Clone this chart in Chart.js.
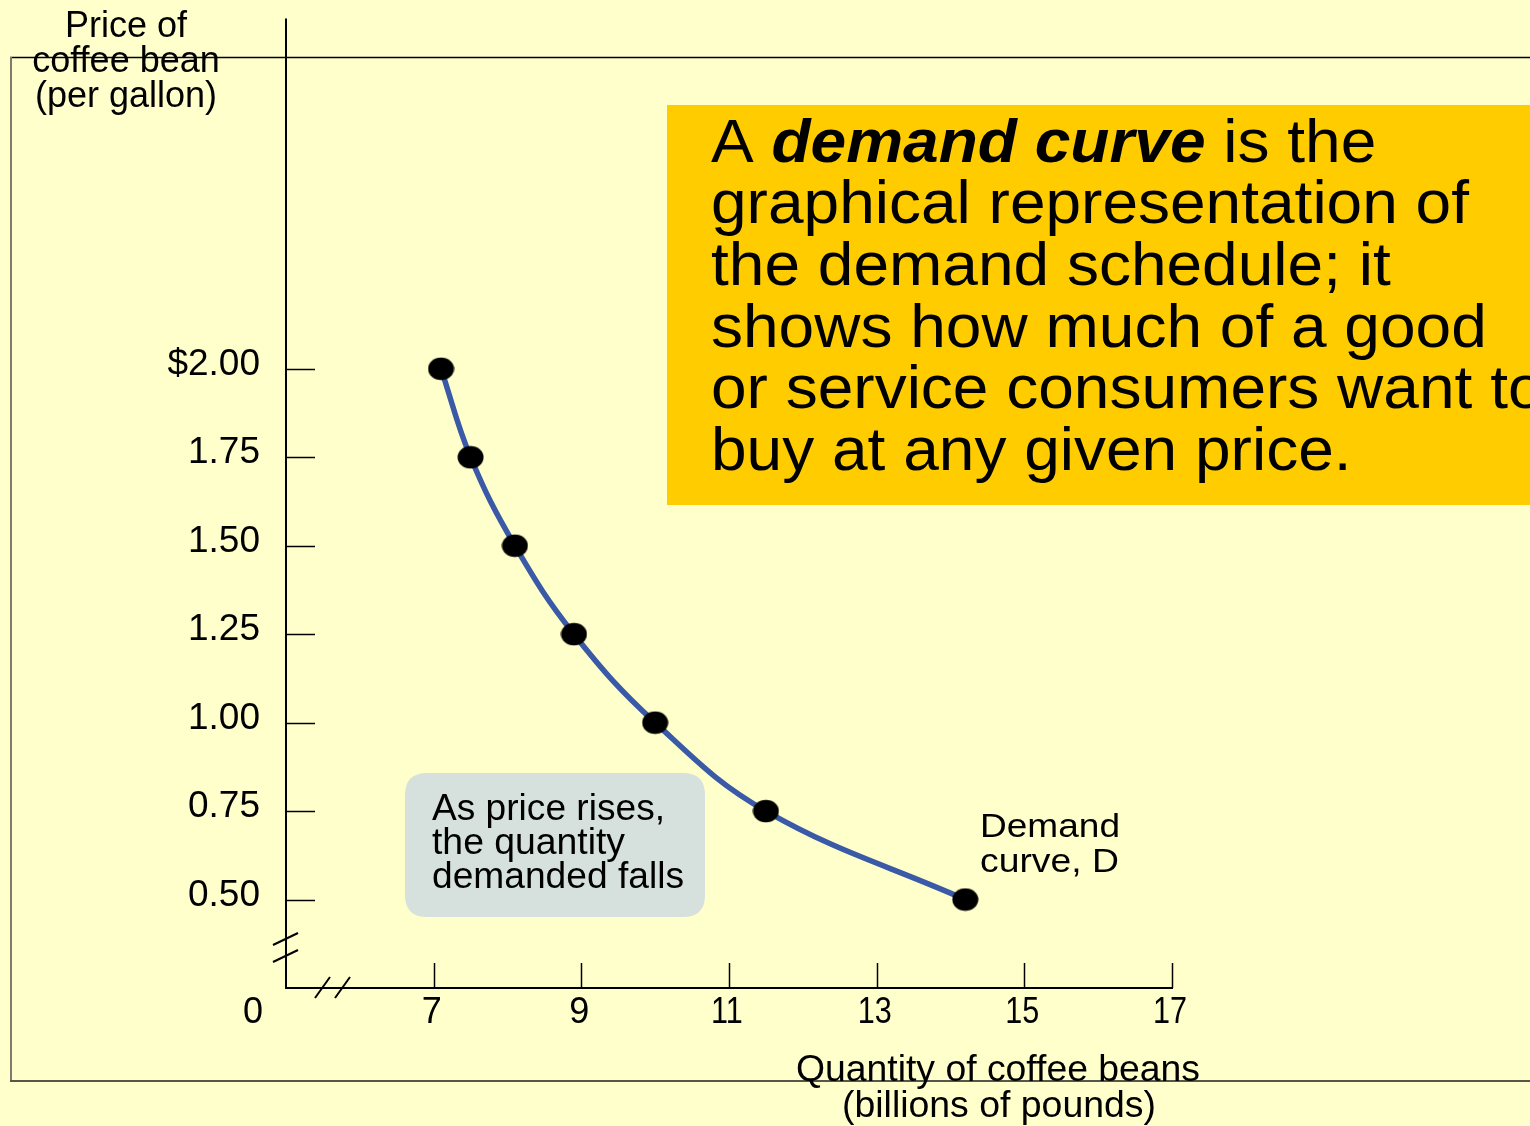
<!DOCTYPE html>
<html>
<head>
<meta charset="utf-8">
<style>
  html, body { margin: 0; padding: 0; background: #FFFFCC; }
  #wrap { width: 1530px; height: 1126px; position: relative; }
  canvas { display: block; }
</style>
<script src="https://cdn.jsdelivr.net/npm/chart.js@4.4.1/dist/chart.umd.min.js"></script>
</head>
<body>
<div id="wrap"><canvas id="c" width="1530" height="1126"></canvas></div>
<script>
// ---------------- DATA ----------------
const quantities = [7.1, 7.5, 8.1, 8.9, 10.0, 11.5, 14.2];          // billions of pounds
const prices = [2.00, 1.75, 1.50, 1.25, 1.00, 0.75, 0.50];           // $ per gallon
const xTickValues = [7, 9, 11, 13, 15, 17];
const xTickLabels = ['7', '9', '11', '13', '15', '17'];
const yTickValues = [2.00, 1.75, 1.50, 1.25, 1.00, 0.75, 0.50];
const yTickLabels = ['$2.00', '1.75', '1.50', '1.25', '1.00', '0.75', '0.50'];
const originLabel = '0';
const yTitleLines = ['Price of', 'coffee bean', '(per gallon)'];
const xTitleLines = ['Quantity of coffee beans', '(billions of pounds)'];
const curveLabelLines = ['Demand', 'curve, D'];
const calloutLines = ['As price rises,', 'the quantity', 'demanded falls'];
const definitionFirstLine = [
  { text: 'A ', style: 'normal' },
  { text: 'demand curve', style: 'bolditalic' },
  { text: ' is the', style: 'normal' }
];
const definitionLines = [
  'graphical representation of',
  'the demand schedule; it',
  'shows how much of a good',
  'or service consumers want to',
  'buy at any given price.'
];

// ---------------- STYLE ----------------
const BG = '#FFFFCC';
const FONT = '"Liberation Sans", Arial, sans-serif';
const CURVE_COLOR = '#3A5AA8';
const BOX_COLOR = '#FFCC00';
const CALLOUT_COLOR = '#D6E1DE';

function dotImage() {
  const c = document.createElement('canvas');
  c.width = 27; c.height = 24;
  const g = c.getContext('2d');
  g.fillStyle = '#000';
  g.beginPath();
  g.ellipse(13.5, 12, 13, 11.3, 0, 0, Math.PI * 2);
  g.fill();
  return c;
}

function txt(ctx, s, x, y, font, width, align) {
  ctx.save();
  ctx.font = font;
  const w = ctx.measureText(s).width;
  const sx = width ? width / w : 1;
  ctx.translate(x, y);
  ctx.scale(sx, 1);
  ctx.textAlign = align || 'left';
  ctx.textBaseline = 'alphabetic';
  ctx.fillStyle = '#000';
  ctx.fillText(s, 0, 0);
  ctx.restore();
}

function line(ctx, x1, y1, x2, y2, w, color) {
  ctx.save();
  ctx.strokeStyle = color || '#000';
  ctx.lineWidth = w;
  ctx.beginPath();
  ctx.moveTo(x1, y1);
  ctx.lineTo(x2, y2);
  ctx.stroke();
  ctx.restore();
}

function roundRect(ctx, x, y, w, h, r, color) {
  ctx.save();
  ctx.fillStyle = color;
  ctx.beginPath();
  ctx.moveTo(x + r, y);
  ctx.lineTo(x + w - r, y);
  ctx.quadraticCurveTo(x + w, y, x + w, y + r);
  ctx.lineTo(x + w, y + h - r);
  ctx.quadraticCurveTo(x + w, y + h, x + w - r, y + h);
  ctx.lineTo(x + r, y + h);
  ctx.quadraticCurveTo(x, y + h, x, y + h - r);
  ctx.lineTo(x, y + r);
  ctx.quadraticCurveTo(x, y, x + r, y);
  ctx.closePath();
  ctx.fill();
  ctx.restore();
}

const decorPlugin = {
  id: 'decor',
  beforeDraw(chart) {
    const ctx = chart.ctx;
    const xs = chart.scales.x, ys = chart.scales.y;
    ctx.save();
    ctx.fillStyle = BG;
    ctx.fillRect(0, 0, chart.width, chart.height);

    // frame lines
    line(ctx, 10, 57.5, 1530, 57.5, 1.5, '#000');
    line(ctx, 11, 57, 11, 1081, 2, '#7c7c6c');
    line(ctx, 10, 1081, 1530, 1081, 2, '#56564a');

    // definition box
    ctx.fillStyle = BOX_COLOR;
    ctx.fillRect(667, 105, 870, 400);

    // callout box
    roundRect(ctx, 405, 773, 300, 144, 22, CALLOUT_COLOR);

    // axes
    const x0 = xs.getPixelForValue(xs.min);
    const x1 = xs.getPixelForValue(xs.max);
    const y0 = ys.getPixelForValue(ys.min);
    const y1 = ys.getPixelForValue(ys.max);
    line(ctx, x0, y1, x0, y0 + 1, 2, '#000');
    line(ctx, x0 - 1, y0, x1 + 1, y0, 2, '#000');

    // y ticks
    yTickValues.forEach(v => {
      const py = Math.round(ys.getPixelForValue(v)) + 0.5;
      line(ctx, x0, py, x0 + 29, py, 1.5, '#000');
    });
    // x ticks
    xTickValues.forEach(v => {
      const px = Math.round(xs.getPixelForValue(v)) + 0.5;
      line(ctx, px, y0, px, y0 - 25, 1.5, '#000');
    });

    // axis break marks
    line(ctx, x0 - 13, y0 - 43, x0 + 12, y0 - 55, 2, '#000');
    line(ctx, x0 - 13, y0 - 26, x0 + 12, y0 - 38, 2, '#000');
    line(ctx, x0 + 29, y0 + 10, x0 + 44, y0 - 11, 2, '#000');
    line(ctx, x0 + 49, y0 + 10, x0 + 64, y0 - 11, 2, '#000');
    ctx.restore();
  },
  afterDraw(chart) {
    const ctx = chart.ctx;
    const xs = chart.scales.x, ys = chart.scales.y;
    const y0 = ys.getPixelForValue(ys.min);

    // y tick labels
    yTickValues.forEach((v, i) => {
      const py = ys.getPixelForValue(v);
      txt(ctx, yTickLabels[i], 260, py + 6, '37px ' + FONT, null, 'right');
    });
    // x tick labels
    xTickValues.forEach((v, i) => {
      const px = xs.getPixelForValue(v);
      const lab = xTickLabels[i];
      ctx.save(); ctx.font = '36px ' + FONT;
      const w = ctx.measureText(lab).width; ctx.restore();
      txt(ctx, lab, px - 2, y0 + 35, '36px ' + FONT, lab.length > 1 ? w * 0.85 : null, 'center');
    });
    txt(ctx, originLabel, 253, y0 + 35, '36px ' + FONT, null, 'center');

    // y title
    const yTitleBase = [37, 72, 107];
    yTitleLines.forEach((s, i) => txt(ctx, s, 126, yTitleBase[i], '36px ' + FONT, null, 'center'));

    // x title
    txt(ctx, xTitleLines[0], 998, 1081, '36px ' + FONT, 404, 'center');
    txt(ctx, xTitleLines[1], 999, 1117, '36px ' + FONT, 314, 'center');

    // curve label
    txt(ctx, curveLabelLines[0], 980, 837, '34px ' + FONT, 140, 'left');
    txt(ctx, curveLabelLines[1], 980, 872, '34px ' + FONT, 139, 'left');

    // callout text
    const cb = [820, 854, 888];
    const cw = [233, 193, 252];
    calloutLines.forEach((s, i) => txt(ctx, s, 432, cb[i], '36px ' + FONT, cw[i], 'left'));

    // definition text
    const dFont = '62px ' + FONT;
    ctx.save(); ctx.font = dFont;
    const sx = 758 / ctx.measureText(definitionLines[0]).width;
    ctx.restore();
    const dBase = [162, 223, 285, 347, 408, 470];
    let cx = 711;
    definitionFirstLine.forEach(seg => {
      const f = seg.style === 'bolditalic' ? 'italic bold 62px ' + FONT : dFont;
      ctx.save(); ctx.font = f;
      const w = ctx.measureText(seg.text).width * sx;
      ctx.restore();
      txt(ctx, seg.text, cx, dBase[0], f, w, 'left');
      cx += w;
    });
    definitionLines.forEach((s, i) => {
      ctx.save(); ctx.font = dFont;
      const w = ctx.measureText(s).width * sx;
      ctx.restore();
      txt(ctx, s, 711, dBase[i + 1], dFont, w, 'left');
    });
  }
};

const ctx = document.getElementById('c').getContext('2d');
new Chart(ctx, {
  type: 'line',
  data: {
    datasets: [{
      data: quantities.map((q, i) => ({ x: q, y: prices[i] })),
      borderColor: CURVE_COLOR,
      borderWidth: 5.5,
      backgroundColor: '#000',
      pointStyle: dotImage(),
      pointRadius: 13,
      pointHoverRadius: 13,
      tension: 0.4,
      cubicInterpolationMode: 'default',
      fill: false,
      clip: false
    }]
  },
  options: {
    responsive: false,
    animation: false,
    events: [],
    layout: { padding: { left: 286, right: 358, top: 18, bottom: 138 } },
    plugins: { legend: { display: false }, tooltip: { enabled: false } },
    scales: {
      x: { type: 'linear', min: 5, max: 17, display: false },
      y: { type: 'linear', min: 0.25, max: 2.99, display: false }
    }
  },
  plugins: [decorPlugin]
});
</script>
</body>
</html>
